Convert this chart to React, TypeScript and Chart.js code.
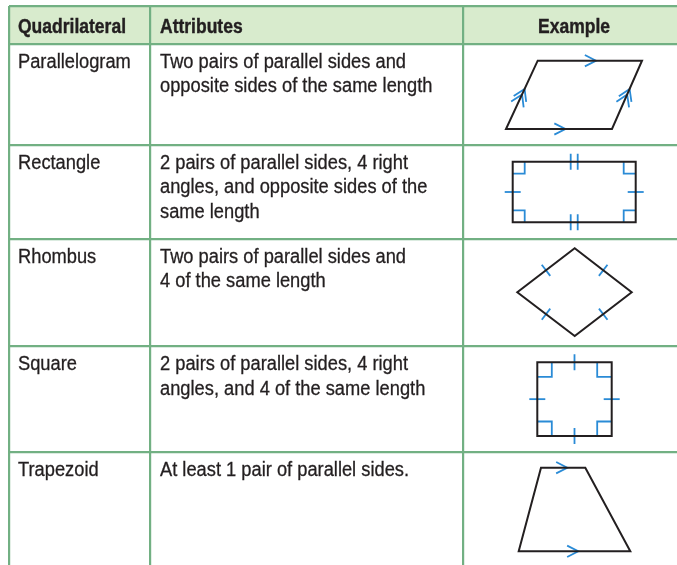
import React, { useEffect, useRef } from "react";
import { Chart, registerables } from "chart.js";

Chart.register(...registerables);

// ---------- data ----------
const HEADERS = ["Quadrilateral", "Attributes", "Example"];
const NAMES = ["Parallelogram", "Rectangle", "Rhombus", "Square", "Trapezoid"];
const ATTRIBUTES = [
  ["Two pairs of parallel sides and", "opposite sides of the same length"],
  ["2 pairs of parallel sides, 4 right", "angles, and opposite sides of the", "same length"],
  ["Two pairs of parallel sides and", "4 of the same length"],
  ["2 pairs of parallel sides, 4 right", "angles, and 4 of the same length"],
  ["At least 1 pair of parallel sides."],
];
// table rule positions (table units)
const COL_EDGES = [9, 150.5, 463, 685];
const ROW_EDGES = [6, 44, 145, 239, 346.5, 452];

// example outlines (table units)
const PARALLELOGRAM = [[537.7, 60.7], [642, 60.7], [612, 129], [506, 129]];
const RECTANGLE = [[512.7, 161.7], [635.7, 161.7], [635.7, 222.3], [512.7, 222.3]];
const RHOMBUS = [[574.7, 248.3], [631.7, 292.3], [574.7, 336], [517.3, 292.3]];
const SQUARE = [[537.3, 362.3], [611.7, 362.3], [611.7, 436], [537.3, 436]];
const TRAPEZOID = [[541, 467.7], [585.3, 467.7], [630.3, 551.3], [518.7, 551.3]];
const OUTLINES = [PARALLELOGRAM, RECTANGLE, RHOMBUS, SQUARE, TRAPEZOID];

// parallel-side arrows: [outline, fromVertex, toVertex, fraction, count]
const ARROWS: [number, number, number, number, number][] = [
  [0, 0, 1, 0.559, 1],
  [0, 3, 2, 0.561, 1],
  [0, 3, 0, 0.586, 2],
  [0, 2, 1, 0.586, 2],
  [4, 0, 1, 0.594, 1],
  [4, 3, 2, 0.534, 1],
];
// equal-length ticks: [outline, fromVertex, toVertex, count]
const TICKS: [number, number, number, number][] = [
  [1, 0, 1, 2], [1, 3, 2, 2], [1, 1, 2, 1], [1, 0, 3, 1],
  [2, 0, 1, 1], [2, 1, 2, 1], [2, 2, 3, 1], [2, 3, 0, 1],
  [3, 0, 1, 1], [3, 1, 2, 1], [3, 2, 3, 1], [3, 3, 0, 1],
];
// right-angle marks: [outline]
const RIGHT_ANGLES = [1, 3];

// ---------- styles ----------
const GREEN = "#72b083";
const HEADER_BG = "#d8ebcd";
const INK = "#231f20";
const BLUE = "#2a8bd6";
const FONT_FAMILY = '"Liberation Sans Narrow", "Arial Narrow", "Liberation Sans", Arial, sans-serif';
const BODY_FONT = "20px " + FONT_FAMILY;
const HEAD_FONT = "bold 19.5px " + FONT_FAMILY;

type P = [number, number];

function unit(a: P, b: P): P {
  const dx = b[0] - a[0], dy = b[1] - a[1];
  const l = Math.hypot(dx, dy);
  return [dx / l, dy / l];
}

function buildMarks(): P[][] {
  const lines: P[][] = [];
  // arrows
  ARROWS.forEach(([s, i, j, t, n]) => {
    const A = OUTLINES[s][i] as P, B = OUTLINES[s][j] as P;
    const d = unit(A, B);
    const nrm: P = [-d[1], d[0]];
    const L = n > 1 ? 13 : 12.5, ang = ((n > 1 ? 32 : 27) * Math.PI) / 180;
    for (let k = 0; k < n; k++) {
      const tip: P = [A[0] + (B[0] - A[0]) * t - d[0] * 6 * k, A[1] + (B[1] - A[1]) * t - d[1] * 6 * k];
      const c = Math.cos(ang) * L, sn = Math.sin(ang) * L;
      lines.push([
        [tip[0] - c * d[0] + sn * nrm[0], tip[1] - c * d[1] + sn * nrm[1]],
        tip,
        [tip[0] - c * d[0] - sn * nrm[0], tip[1] - c * d[1] - sn * nrm[1]],
      ]);
    }
  });
  // ticks
  TICKS.forEach(([s, i, j, n]) => {
    const A = OUTLINES[s][i] as P, B = OUTLINES[s][j] as P;
    const d = unit(A, B);
    const nrm: P = [-d[1], d[0]];
    const half = s === 2 ? 7 : 8;
    const mid: P = [(A[0] + B[0]) / 2, (A[1] + B[1]) / 2];
    for (let k = 0; k < n; k++) {
      const off = (k - (n - 1) / 2) * 7;
      const c: P = [mid[0] + d[0] * off, mid[1] + d[1] * off];
      lines.push([
        [c[0] - nrm[0] * half, c[1] - nrm[1] * half],
        [c[0] + nrm[0] * half, c[1] + nrm[1] * half],
      ]);
    }
  });
  // right angles
  RIGHT_ANGLES.forEach((s) => {
    const pts = OUTLINES[s] as P[];
    const size = s === 3 ? 14.5 : 12;
    pts.forEach((V, i) => {
      const u1 = unit(V, pts[(i + 1) % pts.length]);
      const u2 = unit(V, pts[(i + pts.length - 1) % pts.length]);
      lines.push([
        [V[0] + u1[0] * size, V[1] + u1[1] * size],
        [V[0] + u1[0] * size + u2[0] * size, V[1] + u1[1] * size + u2[1] * size],
        [V[0] + u2[0] * size, V[1] + u2[1] * size],
      ]);
    });
  });
  return lines;
}

function fitScale(ctx: CanvasRenderingContext2D, font: string, text: string, target: number) {
  ctx.font = font;
  const w = ctx.measureText(text).width;
  return w > 0 ? target / w : 1;
}

const tablePlugin = {
  id: "tablePlugin",
  beforeDraw(chart: any) {
    const { ctx, scales } = chart;
    const xs = scales.x, ys = scales.y;
    const x0 = xs.getPixelForValue(COL_EDGES[0]);
    const x1 = xs.getPixelForValue(COL_EDGES[COL_EDGES.length - 1]);
    const y0 = ys.getPixelForValue(ROW_EDGES[0]);
    const y1 = ys.getPixelForValue(ROW_EDGES[1]);
    ctx.save();
    ctx.fillStyle = "#ffffff";
    ctx.fillRect(0, 0, chart.width, chart.height);
    ctx.fillStyle = HEADER_BG;
    ctx.fillRect(x0, y0, x1 - x0, y1 - y0);
    ctx.restore();
  },
  afterDatasetsDraw(chart: any) {
    const { ctx, scales } = chart;
    const xs = scales.x, ys = scales.y;
    ctx.save();
    ctx.fillStyle = INK;
    ctx.strokeStyle = INK;
    ctx.textBaseline = "alphabetic";
    const headScale = fitScale(ctx, HEAD_FONT, "Quadrilateral", 108);
    const bodyScale = fitScale(ctx, BODY_FONT, "2 pairs of parallel sides, 4 right", 248);
    const draw = (text: string, x: number, y: number, sx: number, align: CanvasTextAlign, stroke: number) => {
      ctx.save();
      ctx.translate(x, y);
      ctx.scale(sx, 1);
      ctx.textAlign = align;
      ctx.fillText(text, 0, 0);
      if (stroke > 0) {
        ctx.lineWidth = stroke;
        ctx.strokeText(text, 0, 0);
      }
      ctx.restore();
    };
    // header
    ctx.font = HEAD_FONT;
    const hy = ys.getPixelForValue(ROW_EDGES[0] + 27.3);
    draw(HEADERS[0], xs.getPixelForValue(COL_EDGES[0] + 9), hy, headScale, "left", 0.4);
    draw(HEADERS[1], xs.getPixelForValue(COL_EDGES[1] + 9.5), hy, headScale, "left", 0.4);
    draw(HEADERS[2], xs.getPixelForValue((COL_EDGES[2] + COL_EDGES[3]) / 2), hy, headScale, "center", 0.4);
    // body
    ctx.font = BODY_FONT;
    NAMES.forEach((name, r) => {
      const top = ROW_EDGES[r + 1] + 1;
      draw(name, xs.getPixelForValue(COL_EDGES[0] + 9), ys.getPixelForValue(top + 22.5), bodyScale, "left", 0.3);
      ATTRIBUTES[r].forEach((line, k) => {
        draw(line, xs.getPixelForValue(COL_EDGES[1] + 9.5), ys.getPixelForValue(top + 22.5 + k * 24.5), bodyScale, "left", 0.3);
      });
    });
    ctx.restore();
  },
};

export default function App() {
  const ref = useRef<HTMLCanvasElement | null>(null);

  useEffect(() => {
    if (!ref.current) return;
    const outlineSets = OUTLINES.map((pts) => ({
      data: [...pts, pts[0], pts[1]].map(([x, y]) => ({ x, y })),
      borderColor: INK,
      borderWidth: 2,
      borderJoinStyle: "miter" as const,
      showLine: true,
      pointRadius: 0,
      fill: false,
      tension: 0,
    }));
    const markSets = buildMarks().map((pts) => ({
      data: pts.map(([x, y]) => ({ x, y })),
      borderColor: BLUE,
      borderWidth: 1.8,
      borderJoinStyle: "miter" as const,
      showLine: true,
      pointRadius: 0,
      fill: false,
      tension: 0,
    }));
    const chart = new Chart(ref.current, {
      type: "scatter",
      data: { datasets: [...outlineSets, ...markSets] as any },
      options: {
        animation: false,
        responsive: false,
        maintainAspectRatio: false,
        layout: { padding: { left: COL_EDGES[0], top: ROW_EDGES[0], right: 0, bottom: 0 } },
        events: [],
        plugins: { legend: { display: false }, tooltip: { enabled: false } },
        scales: {
          x: {
            type: "linear",
            min: COL_EDGES[0],
            max: 677,
            afterBuildTicks: (s: any) => {
              s.ticks = COL_EDGES.map((v) => ({ value: v }));
            },
            ticks: { display: false },
            grid: { color: GREEN, lineWidth: 2.2, drawTicks: false },
            border: { display: false },
          },
          y: {
            type: "linear",
            reverse: true,
            min: ROW_EDGES[0],
            max: 565,
            afterBuildTicks: (s: any) => {
              s.ticks = ROW_EDGES.map((v) => ({ value: v }));
            },
            ticks: { display: false },
            grid: { color: GREEN, lineWidth: 2.2, drawTicks: false },
            border: { display: false },
          },
        },
      },
      plugins: [tablePlugin],
    });
    return () => chart.destroy();
  }, []);

  return (
    <div style={{ position: "absolute", left: 0, top: 0, width: 677, height: 565, background: "#fff" }}>
      <canvas ref={ref} width={677} height={565} style={{ display: "block" }} />
    </div>
  );
}
